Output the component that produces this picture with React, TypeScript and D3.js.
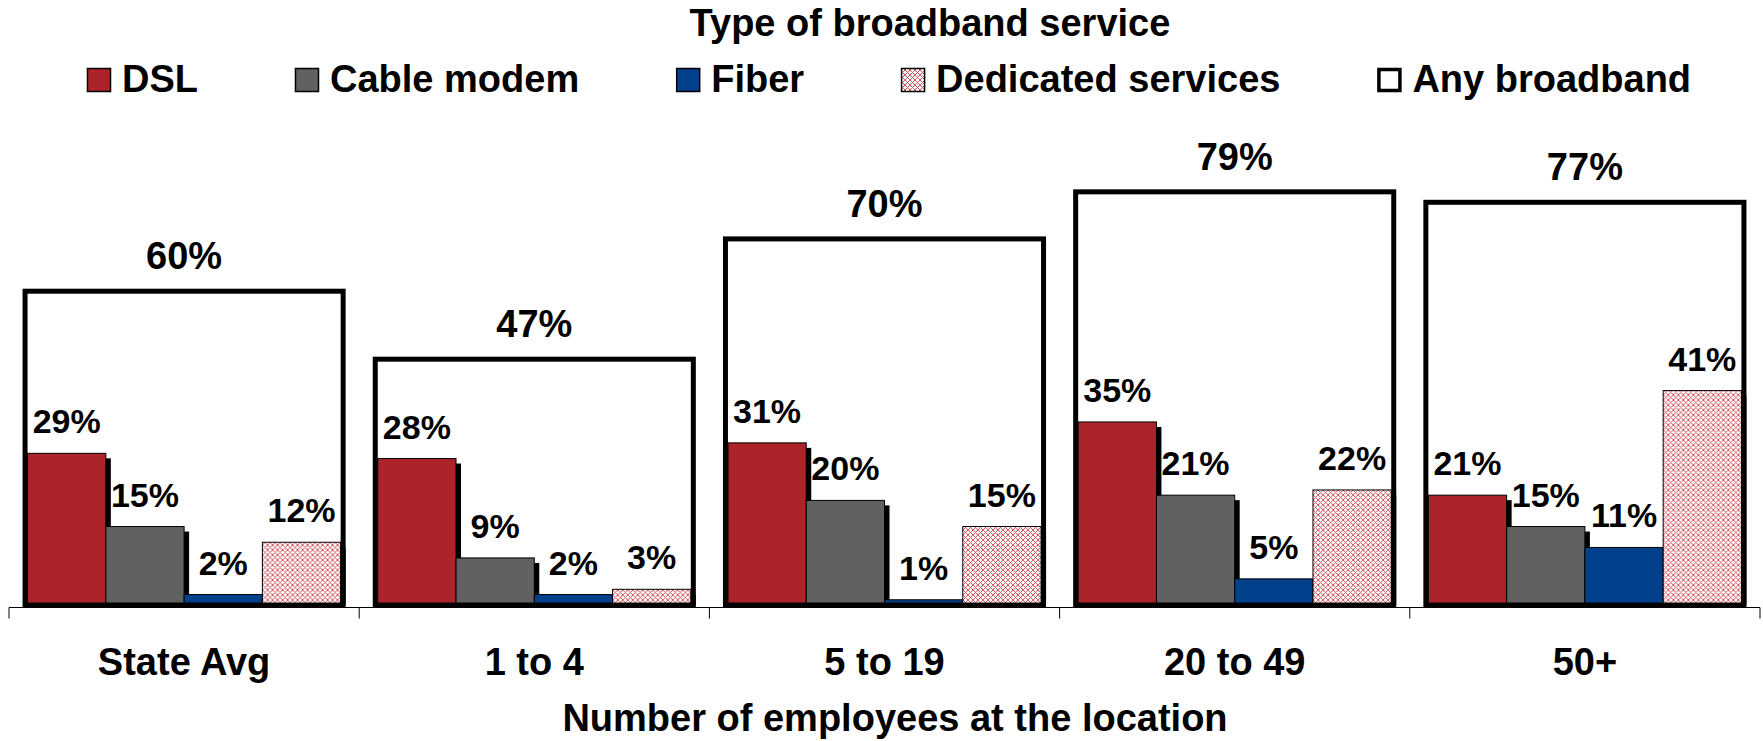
import React, { useRef, useEffect } from 'react';
import * as d3 from 'd3';

const W = 1763;
const H = 741;

const categories = ['State Avg', '1 to 4', '5 to 19', '20 to 49', '50+'];
const anyBroadband = [60, 47, 70, 79, 77];
const dsl = [29, 28, 31, 35, 21];
const cable = [15, 9, 20, 21, 15];
const fiber = [2, 2, 1, 5, 11];
const dedicated = [12, 3, 15, 22, 41];

const seriesNames = ['DSL', 'Cable modem', 'Fiber', 'Dedicated services'];
const seriesValues = [dsl, cable, fiber, dedicated];
const seriesFills = ['#AC2429', '#616161', '#01408A', 'url(#dedicated-pattern)'];

const FONT = '"Liberation Sans", Arial, Helvetica, sans-serif';

const App = () => {
    const svgRef = useRef<SVGSVGElement>(null);

    useEffect(() => {
        document.body.style.margin = '0';
        const svg = d3.select(svgRef.current);
        svg.selectAll('*').remove(); // start clean

        svg.attr('width', W).attr('height', H)
            .style('font-family', FONT)
            .style('font-weight', 'bold');

        // hatch pattern for dedicated services
        const defs = svg.append('defs');
        const pat = defs.append('pattern')
            .attr('id', 'dedicated-pattern')
            .attr('patternUnits', 'userSpaceOnUse')
            .attr('width', 5)
            .attr('height', 5);
        pat.append('rect').attr('width', 5).attr('height', 5).attr('fill', '#fff');
        pat.append('path')
            .attr('d', 'M0,0L5,5M5,0L0,5')
            .attr('stroke', '#d4575e')
            .attr('stroke-width', 1);

        const x0 = d3.scaleBand<string>()
            .domain(categories)
            .range([9, 1760])
            .paddingInner(0.106)
            .paddingOuter(0.053);

        const x1 = d3.scaleBand<string>()
            .domain(seriesNames)
            .range([0, x0.bandwidth()]);

        const y = d3.scaleLinear().domain([0, 100]).range([605, 82]);

        const groups = svg.append('g').selectAll('g.cat')
            .data(categories)
            .join('g')
            .attr('class', 'cat')
            .attr('transform', d => `translate(${x0(d)},0)`);

        // white box fill (any broadband)
        groups.append('rect')
            .attr('x', -2.5)
            .attr('width', x0.bandwidth() + 5)
            .attr('y', (d, i) => y(anyBroadband[i]))
            .attr('height', (d, i) => y(0) - y(anyBroadband[i]))
            .attr('fill', '#fff');

        groups.each(function (c, ci) {
            const g = d3.select(this);
            // shadows first, cut at the baseline
            seriesNames.forEach((s, si) => {
                const v = seriesValues[si][ci];
                g.append('rect')
                    .attr('x', (x1(s) as number) + 5)
                    .attr('y', y(v) + 5)
                    .attr('width', x1.bandwidth())
                    .attr('height', Math.max(0, y(0) - y(v) - 5))
                    .attr('fill', '#000');
            });
            seriesNames.forEach((s, si) => {
                const v = seriesValues[si][ci];
                g.append('rect')
                    .attr('x', x1(s) as number)
                    .attr('y', y(v))
                    .attr('width', x1.bandwidth())
                    .attr('height', y(0) - y(v))
                    .attr('fill', seriesFills[si])
                    .attr('stroke', '#000')
                    .attr('stroke-width', 1);
                g.append('text')
                    .attr('x', (x1(s) as number) + x1.bandwidth() / 2)
                    .attr('y', y(v) - 20)
                    .attr('text-anchor', 'middle')
                    .attr('font-size', 34)
                    .attr('fill', '#000')
                    .text(`${v}%`);
            });
        });

        // box outline on top
        groups.append('rect')
            .attr('x', -2.5)
            .attr('width', x0.bandwidth() + 5)
            .attr('y', (d, i) => y(anyBroadband[i]))
            .attr('height', (d, i) => y(0) - y(anyBroadband[i]))
            .attr('fill', 'none')
            .attr('stroke', '#000')
            .attr('stroke-width', 5);

        groups.append('text')
            .attr('x', x0.bandwidth() / 2)
            .attr('y', (d, i) => y(anyBroadband[i]) - 22)
            .attr('text-anchor', 'middle')
            .attr('font-size', 38)
            .text((d, i) => `${anyBroadband[i]}%`);

        // x axis with ticks between categories
        const step = x0.step();
        const axisStart = (x0(categories[0]) as number) - step * x0.paddingInner() / 2;
        const axisY = 607.5;
        const axis = svg.append('g');
        axis.append('line')
            .attr('x1', axisStart).attr('x2', axisStart + step * categories.length)
            .attr('y1', axisY).attr('y2', axisY)
            .attr('stroke', '#000').attr('stroke-width', 1);
        axis.selectAll('line.tick')
            .data(d3.range(categories.length + 1))
            .join('line')
            .attr('class', 'tick')
            .attr('x1', i => axisStart + i * step)
            .attr('x2', i => axisStart + i * step)
            .attr('y1', axisY).attr('y2', axisY + 11)
            .attr('stroke', '#000').attr('stroke-width', 1);
        axis.selectAll('text')
            .data(categories)
            .join('text')
            .attr('x', d => (x0(d) as number) + x0.bandwidth() / 2)
            .attr('y', 675)
            .attr('text-anchor', 'middle')
            .attr('font-size', 38)
            .text(d => d);

        svg.append('text')
            .attr('x', 895)
            .attr('y', 731)
            .attr('text-anchor', 'middle')
            .attr('font-size', 38)
            .text('Number of employees at the location');

        // legend
        svg.append('text')
            .attr('x', 930)
            .attr('y', 36)
            .attr('text-anchor', 'middle')
            .attr('font-size', 38)
            .text('Type of broadband service');

        const legendNames = [...seriesNames, 'Any broadband'];
        const legendFills = [...seriesFills, '#fff'];
        let lx = 87;
        const legend = svg.append('g');
        legendNames.forEach((name, i) => {
            const isBox = i === legendNames.length - 1;
            legend.append('rect')
                .attr('x', lx + (isBox ? 1.5 : 0.5))
                .attr('y', 68.5 + (isBox ? 1 : 0))
                .attr('width', isBox ? 21 : 23)
                .attr('height', isBox ? 21 : 23)
                .attr('fill', legendFills[i])
                .attr('stroke', '#000')
                .attr('stroke-width', isBox ? 3.5 : 1.5);
            const t = legend.append('text')
                .attr('x', lx + 35)
                .attr('y', 92)
                .attr('font-size', 38)
                .text(name);
            const len = (t.node() as SVGTextElement).getComputedTextLength();
            lx += 35 + len + 97;
        });
    }, []);

    return <svg ref={svgRef} style={{ display: 'block' }} />;
};

export default App;
